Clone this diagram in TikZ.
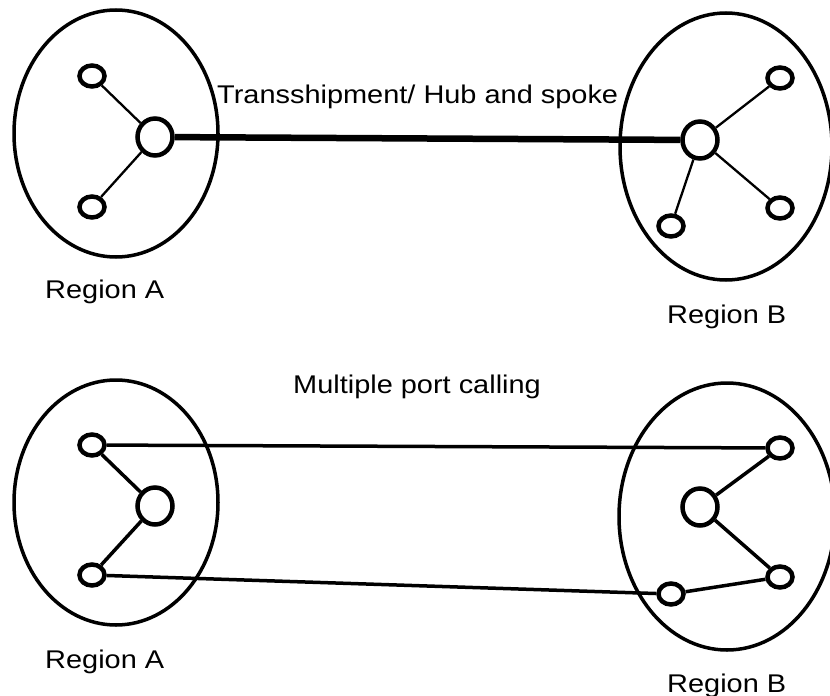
\documentclass[tikz,border=0pt]{standalone}
\usepackage{fontspec}
\setmainfont{Liberation Sans}
\usetikzlibrary{shapes.geometric}
\begin{document}
\begin{tikzpicture}[x=1pt,y=-1pt,
  region/.style={draw,ellipse,line width=3.5pt,inner sep=0pt},
  port/.style={draw,ellipse,line width=4.5pt,inner sep=0pt,minimum width=25pt,minimum height=21pt,fill=white},
  hub/.style={draw,ellipse,line width=4.5pt,inner sep=0pt,minimum width=35pt,minimum height=37pt,fill=white},
  spoke/.style={line width=2.3pt},
  spokeb/.style={line width=3.5pt},
  trunk/.style={line width=6.5pt},
  lbl/.style={anchor=base west,inner sep=0pt,xscale=1.13,font=\fontsize{25.6pt}{30pt}\selectfont}]
\useasboundingbox (0,0) rectangle (830,696);
\clip (0,0) rectangle (830,696);
% top part
\node[region,minimum width=204pt,minimum height=247pt] (RA1) at (116,133.5) {};
\node[region,minimum width=212pt,minimum height=267pt] (RB1) at (726,146.5) {};
\node[hub] (hA1) at (155,137) {};
\node[hub] (hB1) at (700,140) {};
\node[port] (a1) at (92,76) {};
\node[port] (a2) at (92,207) {};
\node[port] (b1) at (780,78) {};
\node[port] (b2) at (780,208) {};
\node[port] (b3) at (671,226) {};
\draw[trunk] (hA1) -- (hB1);
\draw[spoke] (a1) -- (hA1);
\draw[spoke] (a2) -- (hA1);
\draw[spoke] (hB1) -- (b1);
\draw[spoke] (hB1) -- (b2);
\draw[spoke] (hB1) -- (b3);
\node[lbl] (t1) at (217,103) {Transshipment/ Hub and spoke};
\node[lbl] (la1) at (45,298) {Region A};
\node[lbl] (lb1) at (667,323) {Region B};
% bottom part
\node[region,minimum width=204pt,minimum height=245pt] (RA2) at (116,502.5) {};
\node[region,minimum width=216pt,minimum height=267pt] (RB2) at (727,516.5) {};
\node[hub] (hA2) at (155,506) {};
\node[hub] (hB2) at (700,507) {};
\node[port] (c1) at (92,445) {};
\node[port] (c2) at (92,575) {};
\node[port] (d1) at (780,448) {};
\node[port] (d2) at (780,577) {};
\node[port] (d3) at (671,594) {};
\draw[spokeb] (c1) -- (hA2);
\draw[spokeb] (c2) -- (hA2);
\draw[spokeb] (hB2) -- (d1);
\draw[spokeb] (hB2) -- (d2);
\draw[spokeb] (c1) -- (d1);
\draw[spokeb] (c2) -- (d3);
\draw[spokeb] (d3) -- (d2);
\node[lbl] (t2) at (293,393) {Multiple port calling};
\node[lbl] (la2) at (45,668) {Region A};
\node[lbl] (lb2) at (667,692) {Region B};
\end{tikzpicture}
\end{document}
